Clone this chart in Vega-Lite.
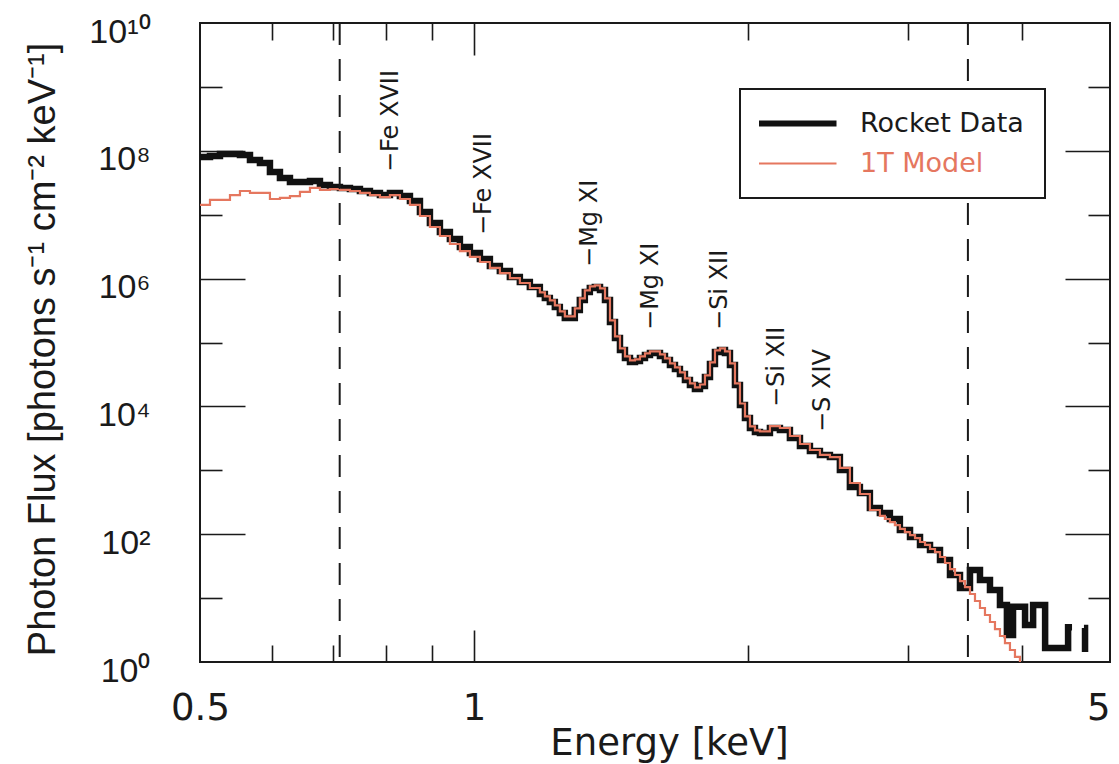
{
  "$schema": "https://vega.github.io/schema/vega-lite/v6.json",
  "width": 910,
  "height": 639,
  "autosize": {"type": "none"},
  "padding": {"left": 200, "top": 23, "right": 9, "bottom": 102},
  "background": "white",
  "config": {
    "view": {"stroke": "#1a1a1a", "strokeWidth": 2},
    "axis": {
      "domain": false,
      "grid": false,
      "tickColor": "#1a1a1a",
      "tickWidth": 1.6,
      "labelColor": "#1a1a1a",
      "titleColor": "#1a1a1a",
      "titleFontWeight": "normal",
      "labelOverlap": false,
      "labelFlush": false
    }
  },
  "datasets": {
    "rocket": [
      {"E": 0.5, "F": 8.0e7, "part": 1}, {"E": 0.5128, "F": 8.3e7, "part": 1}, {"E": 0.5259, "F": 8.9e7, "part": 1},
      {"E": 0.5394, "F": 8.9e7, "part": 1}, {"E": 0.5532, "F": 8.6e7, "part": 1}, {"E": 0.5674, "F": 7.2e7, "part": 1},
      {"E": 0.5819, "F": 6.44e7, "part": 1}, {"E": 0.5968, "F": 4.66e7, "part": 1}, {"E": 0.6121, "F": 3.75e7, "part": 1},
      {"E": 0.6278, "F": 3.25e7, "part": 1}, {"E": 0.6439, "F": 3.25e7, "part": 1}, {"E": 0.6604, "F": 3.37e7, "part": 1},
      {"E": 0.6773, "F": 2.92e7, "part": 1}, {"E": 0.6946, "F": 2.71e7, "part": 1}, {"E": 0.7124, "F": 2.62e7, "part": 1},
      {"E": 0.7307, "F": 2.52e7, "part": 1}, {"E": 0.7494, "F": 2.35e7, "part": 1}, {"E": 0.7686, "F": 2.19e7, "part": 1},
      {"E": 0.7883, "F": 2.03e7, "part": 1}, {"E": 0.8085, "F": 2.19e7, "part": 1}, {"E": 0.8292, "F": 1.96e7, "part": 1},
      {"E": 0.8505, "F": 1.64e7, "part": 1}, {"E": 0.8723, "F": 1.10e7, "part": 1}, {"E": 0.8946, "F": 7.41e6, "part": 1},
      {"E": 0.9175, "F": 5.36e6, "part": 1}, {"E": 0.941, "F": 4.17e6, "part": 1}, {"E": 0.9651, "F": 3.12e6, "part": 1},
      {"E": 0.9898, "F": 2.52e6, "part": 1}, {"E": 1.0152, "F": 2.03e6, "part": 1}, {"E": 1.0412, "F": 1.57e6, "part": 1},
      {"E": 1.0678, "F": 1.31e6, "part": 1}, {"E": 1.0952, "F": 1.06e6, "part": 1}, {"E": 1.1232, "F": 8.85e5, "part": 1},
      {"E": 1.152, "F": 7.39e5, "part": 1},
      {"E": 1.1815, "F": 5.74e5, "part": 1}, {"E": 1.1966, "F": 4.97e5, "part": 1}, {"E": 1.2118, "F": 4.30e5, "part": 1},
      {"E": 1.2272, "F": 3.59e5, "part": 1}, {"E": 1.2428, "F": 2.90e5, "part": 1}, {"E": 1.2586, "F": 2.42e5, "part": 1},
      {"E": 1.2746, "F": 2.42e5, "part": 1}, {"E": 1.2908, "F": 3.23e5, "part": 1}, {"E": 1.3073, "F": 4.63e5, "part": 1},
      {"E": 1.3239, "F": 6.17e5, "part": 1}, {"E": 1.3408, "F": 7.13e5, "part": 1}, {"E": 1.3579, "F": 7.39e5, "part": 1},
      {"E": 1.3757, "F": 6.64e5, "part": 1}, {"E": 1.3932, "F": 4.63e5, "part": 1}, {"E": 1.4109, "F": 2.09e5, "part": 1},
      {"E": 1.4289, "F": 1.18e5, "part": 1}, {"E": 1.447, "F": 7.64e4, "part": 1}, {"E": 1.4654, "F": 5.72e4, "part": 1},
      {"E": 1.4841, "F": 4.95e4, "part": 1}, {"E": 1.503, "F": 5.14e4, "part": 1}, {"E": 1.5221, "F": 5.72e4, "part": 1},
      {"E": 1.5415, "F": 6.37e4, "part": 1}, {"E": 1.5611, "F": 6.85e4, "part": 1}, {"E": 1.581, "F": 6.85e4, "part": 1},
      {"E": 1.6011, "F": 6.15e4, "part": 1}, {"E": 1.6215, "F": 5.32e4, "part": 1}, {"E": 1.6421, "F": 4.45e4, "part": 1},
      {"E": 1.663, "F": 3.85e4, "part": 1}, {"E": 1.6841, "F": 3.21e4, "part": 1}, {"E": 1.7056, "F": 2.59e4, "part": 1},
      {"E": 1.7273, "F": 2.16e4, "part": 1}, {"E": 1.7493, "F": 1.87e4, "part": 1}, {"E": 1.7717, "F": 2.08e4, "part": 1},
      {"E": 1.7942, "F": 2.88e4, "part": 1}, {"E": 1.8171, "F": 4.61e4, "part": 1}, {"E": 1.8402, "F": 7.10e4, "part": 1},
      {"E": 1.8636, "F": 7.64e4, "part": 1}, {"E": 1.8874, "F": 6.85e4, "part": 1}, {"E": 1.9113, "F": 4.45e4, "part": 1},
      {"E": 1.9357, "F": 2.16e4, "part": 1}, {"E": 1.9603, "F": 1.05e4, "part": 1}, {"E": 1.9853, "F": 6580, "part": 1},
      {"E": 2.0105, "F": 4590, "part": 1}, {"E": 2.0361, "F": 3970, "part": 1}, {"E": 2.062, "F": 3840, "part": 1},
      {"E": 2.1148, "F": 4590, "part": 1}, {"E": 2.1689, "F": 4270, "part": 1}, {"E": 2.2245, "F": 3200, "part": 1},
      {"E": 2.2817, "F": 2400, "part": 1}, {"E": 2.34, "F": 2000, "part": 1}, {"E": 2.3999, "F": 1740, "part": 1},
      {"E": 2.4614, "F": 1610, "part": 1}, {"E": 2.5244, "F": 1010, "part": 1}, {"E": 2.5891, "F": 548, "part": 1},
      {"E": 2.6554, "F": 441, "part": 1}, {"E": 2.7234, "F": 257, "part": 1}, {"E": 2.7932, "F": 215, "part": 1},
      {"E": 2.8647, "F": 173, "part": 1}, {"E": 2.9381, "F": 116, "part": 1}, {"E": 3.0144, "F": 90, "part": 1},
      {"E": 3.0916, "F": 68, "part": 1}, {"E": 3.1708, "F": 56.6, "part": 1}, {"E": 3.252, "F": 39.5, "part": 1},
      {"E": 3.3353, "F": 23.0, "part": 1}, {"E": 3.4207, "F": 14.4, "part": 1}, {"E": 3.5083, "F": 27.5, "part": 1},
      {"E": 3.5982, "F": 19.2, "part": 1}, {"E": 3.6904, "F": 13.4, "part": 1}, {"E": 3.7849, "F": 7.8, "part": 1},
      {"E": 3.852, "F": 2.65, "part": 1}, {"E": 3.912, "F": 7.3, "part": 1}, {"E": 4.033, "F": 3.8, "part": 1},
      {"E": 4.116, "F": 7.8, "part": 1}, {"E": 4.243, "F": 1.66, "part": 1}, {"E": 4.497, "F": 3.5, "part": 1},
      {"E": 4.542, "F": 3.5, "part": 1},
      {"E": 4.681, "F": 3.4, "part": 2}, {"E": 4.694, "F": 1.43, "part": 2}
    ],
    "model": [
      {"E": 0.5, "F": 1.42e7}, {"E": 0.5128, "F": 1.70e7}, {"E": 0.5259, "F": 1.70e7}, {"E": 0.5394, "F": 2.03e7},
      {"E": 0.5532, "F": 2.35e7}, {"E": 0.5674, "F": 2.19e7}, {"E": 0.5819, "F": 2.19e7}, {"E": 0.5968, "F": 1.76e7},
      {"E": 0.6121, "F": 1.83e7}, {"E": 0.6278, "F": 1.96e7}, {"E": 0.6439, "F": 2.27e7}, {"E": 0.6604, "F": 2.62e7},
      {"E": 0.6773, "F": 2.44e7}, {"E": 0.6946, "F": 2.52e7}, {"E": 0.7124, "F": 2.44e7}, {"E": 0.7307, "F": 2.35e7},
      {"E": 0.7494, "F": 2.19e7}, {"E": 0.7686, "F": 2.03e7}, {"E": 0.7883, "F": 1.89e7}, {"E": 0.8085, "F": 2.03e7},
      {"E": 0.8292, "F": 1.76e7}, {"E": 0.8505, "F": 1.42e7}, {"E": 0.8723, "F": 9.55e6}, {"E": 0.8946, "F": 6.42e6},
      {"E": 0.9175, "F": 4.64e6}, {"E": 0.941, "F": 3.48e6}, {"E": 0.9651, "F": 2.70e6}, {"E": 0.9898, "F": 2.18e6},
      {"E": 1.0152, "F": 1.82e6}, {"E": 1.0412, "F": 1.47e6}, {"E": 1.0678, "F": 1.22e6}, {"E": 1.0952, "F": 1.02e6},
      {"E": 1.1232, "F": 8.53e5}, {"E": 1.152, "F": 7.13e5},
      {"E": 1.1815, "F": 6.08e5}, {"E": 1.1966, "F": 5.27e5}, {"E": 1.2118, "F": 4.56e5}, {"E": 1.2272, "F": 3.81e5},
      {"E": 1.2428, "F": 3.07e5}, {"E": 1.2586, "F": 2.57e5}, {"E": 1.2746, "F": 2.57e5}, {"E": 1.2908, "F": 3.42e5},
      {"E": 1.3073, "F": 4.91e5}, {"E": 1.3239, "F": 6.54e5}, {"E": 1.3408, "F": 7.56e5}, {"E": 1.3579, "F": 7.83e5},
      {"E": 1.3757, "F": 7.04e5}, {"E": 1.3932, "F": 4.91e5}, {"E": 1.4109, "F": 2.22e5}, {"E": 1.4289, "F": 1.25e5},
      {"E": 1.447, "F": 8.10e4}, {"E": 1.4654, "F": 6.06e4}, {"E": 1.4841, "F": 5.25e4}, {"E": 1.503, "F": 5.45e4},
      {"E": 1.5221, "F": 6.06e4}, {"E": 1.5415, "F": 6.75e4}, {"E": 1.5611, "F": 7.26e4}, {"E": 1.581, "F": 7.26e4},
      {"E": 1.6011, "F": 6.52e4}, {"E": 1.6215, "F": 5.64e4}, {"E": 1.6421, "F": 4.72e4}, {"E": 1.663, "F": 4.08e4},
      {"E": 1.6841, "F": 3.40e4}, {"E": 1.7056, "F": 2.75e4}, {"E": 1.7273, "F": 2.29e4}, {"E": 1.7493, "F": 1.98e4},
      {"E": 1.7717, "F": 2.20e4}, {"E": 1.7942, "F": 3.05e4}, {"E": 1.8171, "F": 4.89e4}, {"E": 1.8402, "F": 7.53e4},
      {"E": 1.8636, "F": 8.10e4}, {"E": 1.8874, "F": 7.26e4}, {"E": 1.9113, "F": 4.72e4}, {"E": 1.9357, "F": 2.29e4},
      {"E": 1.9603, "F": 1.11e4}, {"E": 1.9853, "F": 6970}, {"E": 2.0105, "F": 4870}, {"E": 2.0361, "F": 4210},
      {"E": 2.062, "F": 4070}, {"E": 2.1148, "F": 4930}, {"E": 2.1689, "F": 4590}, {"E": 2.2245, "F": 3440},
      {"E": 2.2817, "F": 2580}, {"E": 2.34, "F": 2080}, {"E": 2.3999, "F": 1740}, {"E": 2.4614, "F": 1610},
      {"E": 2.5244, "F": 1090}, {"E": 2.5891, "F": 633}, {"E": 2.6554, "F": 426}, {"E": 2.7234, "F": 239},
      {"E": 2.7932, "F": 193}, {"E": 2.8288, "F": 173}, {"E": 2.8647, "F": 155}, {"E": 2.9012, "F": 139},
      {"E": 2.9381, "F": 121}, {"E": 2.9755, "F": 108}, {"E": 3.0144, "F": 97}, {"E": 3.0528, "F": 87},
      {"E": 3.0916, "F": 75.5}, {"E": 3.131, "F": 68}, {"E": 3.1708, "F": 58.7}, {"E": 3.2112, "F": 52.6},
      {"E": 3.252, "F": 44.0}, {"E": 3.2934, "F": 35.4}, {"E": 3.3353, "F": 28.5}, {"E": 3.3778, "F": 23.0},
      {"E": 3.4207, "F": 18.5}, {"E": 3.4643, "F": 14.9}, {"E": 3.5083, "F": 11.6}, {"E": 3.553, "F": 9.0},
      {"E": 3.5982, "F": 7.0}, {"E": 3.644, "F": 5.44}, {"E": 3.6904, "F": 4.23}, {"E": 3.7374, "F": 3.28},
      {"E": 3.7849, "F": 2.55}, {"E": 3.8331, "F": 1.98}, {"E": 3.8818, "F": 1.54}, {"E": 3.9312, "F": 1.20},
      {"E": 3.9812, "F": 0.93}, {"E": 4.0319, "F": 0.72}
    ],
    "bounds": [{"E": 0.712}, {"E": 3.49}],
    "lines": [
      {"E": 0.811, "F": 4.66e7, "label": "−Fe XVII"},
      {"E": 1.026, "F": 4.81e6, "label": "−Fe XVII"},
      {"E": 1.342, "F": 1.52e6, "label": "−Mg XI"},
      {"E": 1.565, "F": 1.57e5, "label": "−Mg XI"},
      {"E": 1.864, "F": 1.57e5, "label": "−Si XII"},
      {"E": 2.153, "F": 9790, "label": "−Si XII"},
      {"E": 2.419, "F": 3970, "label": "−S XIV"}
    ]
  },
  "resolve": {"axis": {"x": "independent", "y": "independent"}},
  "layer": [
    {
      "data": {"name": "rocket"},
      "mark": {"type": "line", "interpolate": "step-after", "strokeWidth": 6.5, "strokeJoin": "miter", "clip": true},
      "encoding": {
        "x": {
          "field": "E", "type": "quantitative",
          "scale": {"type": "log", "domain": [0.5, 5], "nice": false},
          "axis": {
            "orient": "bottom", "values": [0.5, 1, 5], "ticks": false,
            "labelExpr": "datum.value == 0.5 ? '0.5' : format(datum.value, 'd')",
            "labelAlign": {"condition": {"test": "datum.value == 5", "value": "right"}, "value": "center"},
            "labelFont": "DejaVu Sans", "labelFontSize": 37, "labelPadding": 28,
            "title": "Energy [keV]", "titleFont": "DejaVu Sans", "titleFontSize": 37,
            "titleX": 469, "titleY": 92, "titleAlign": "center", "titleBaseline": "alphabetic"
          }
        },
        "y": {
          "field": "F", "type": "quantitative",
          "scale": {"type": "log", "domain": [1, 10000000000], "nice": false},
          "axis": {
            "orient": "left", "values": [1, 100, 10000, 1000000, 100000000, 10000000000], "ticks": false,
            "labelExpr": "'10' + ['⁰','¹','²','³','⁴','⁵','⁶','⁷','⁸','⁹','¹⁰'][round(log(datum.value) / LN10)]",
            "labelFont": "Liberation Sans", "labelFontSize": 34, "labelPadding": 50, "labelOffset": 9,
            "title": "Photon Flux [photons s⁻¹ cm⁻² keV⁻¹]", "titleFont": "Liberation Sans", "titleFontSize": 38,
            "titleX": -157, "titleY": 326, "titleAngle": 270, "titleAlign": "center", "titleBaseline": "middle"
          }
        },
        "detail": {"field": "part"},
        "color": {
          "datum": "Rocket Data",
          "scale": {"domain": ["Rocket Data", "1T Model"], "range": ["#111111", "#e5775f"]},
          "legend": {
            "title": null, "orient": "none", "legendX": 540, "legendY": 66,
            "strokeColor": "#1a1a1a", "fillColor": "white", "padding": 21,
            "symbolType": "M-1,0H4", "symbolSize": 961, "symbolStrokeWidth": 6,
            "labelFont": "DejaVu Sans", "labelFontSize": 27, "labelOffset": 72, "labelLimit": 400, "rowPadding": 12,
            "encode": {
              "legend": {"update": {"strokeWidth": {"value": 2}}},
              "symbols": {"update": {"strokeWidth": {"signal": "datum.value === 'Rocket Data' ? 6 : 2.2"}, "fill": {"value": "transparent"}}},
              "labels": {"update": {"fill": {"signal": "datum.value === 'Rocket Data' ? '#1a1a1a' : '#e5775f'"}}}
            }
          }
        }
      }
    },
    {
      "data": {"name": "model"},
      "mark": {"type": "line", "interpolate": "step-after", "strokeWidth": 2.2, "clip": true},
      "encoding": {
        "x": {
          "field": "E", "type": "quantitative",
          "axis": {
            "orient": "bottom", "values": [0.6, 0.7, 0.8, 0.9, 1, 2, 3, 4], "labels": false, "title": null,
            "tickSize": {"condition": {"test": "datum.value == 1", "value": -32}, "value": -17}
          }
        },
        "y": {
          "field": "F", "type": "quantitative",
          "axis": {
            "orient": "left", "values": [10, 100, 1000, 10000, 100000, 1000000, 10000000, 100000000, 1000000000],
            "labels": false, "title": null,
            "tickSize": {"condition": {"test": "indexof([100, 10000, 1000000, 100000000], datum.value) >= 0", "value": -45}, "value": -22}
          }
        },
        "color": {"datum": "1T Model"}
      }
    },
    {
      "data": {"name": "bounds"},
      "mark": {"type": "rule", "stroke": "#1a1a1a", "strokeWidth": 2, "strokeDash": [22, 14]},
      "encoding": {
        "x": {
          "field": "E", "type": "quantitative",
          "axis": {
            "orient": "top", "values": [0.6, 0.7, 0.8, 0.9, 1, 2, 3, 4], "labels": false, "title": null,
            "tickSize": {"condition": {"test": "datum.value == 1", "value": -32}, "value": -17}
          }
        }
      }
    },
    {
      "data": {"name": "lines"},
      "mark": {"type": "text", "angle": 270, "align": "left", "baseline": "middle", "font": "DejaVu Sans", "fontSize": 24, "color": "#1a1a1a"},
      "encoding": {
        "x": {"field": "E", "type": "quantitative", "axis": null},
        "y": {
          "field": "F", "type": "quantitative",
          "axis": {
            "orient": "right", "values": [10, 100, 1000, 10000, 100000, 1000000, 10000000, 100000000, 1000000000],
            "labels": false, "title": null,
            "tickSize": {"condition": {"test": "indexof([100, 10000, 1000000, 100000000], datum.value) >= 0", "value": -45}, "value": -22}
          }
        },
        "text": {"field": "label"}
      }
    }
  ]
}
